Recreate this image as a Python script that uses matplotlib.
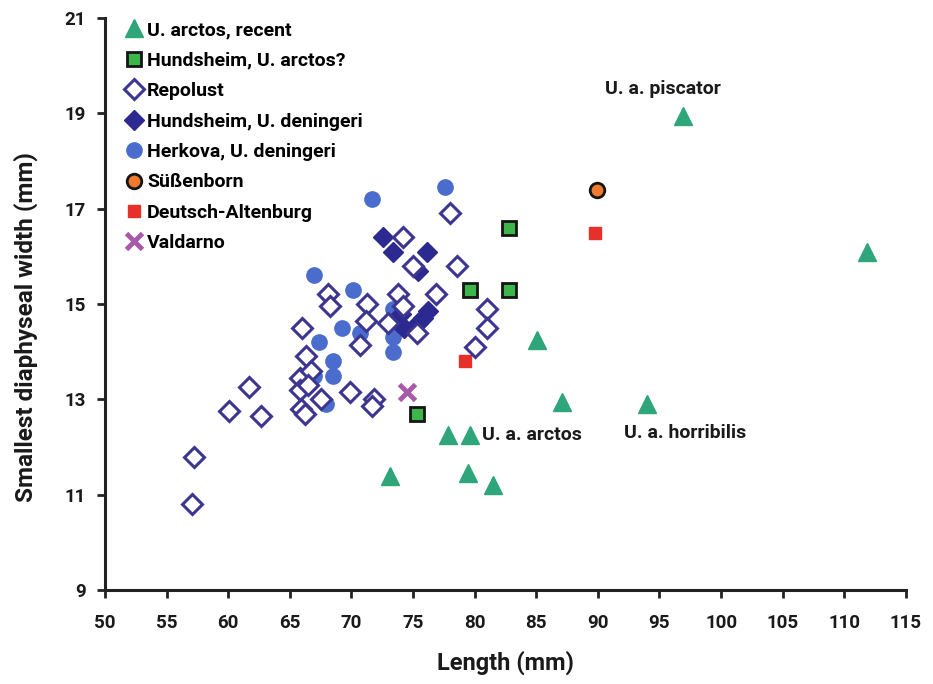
import matplotlib
matplotlib.use("Agg")
import matplotlib.pyplot as plt

plt.rcParams['font.family'] = ['Roboto', 'DejaVu Sans']
TXT_WEIGHT = 'bold'
plt.rcParams['font.weight'] = TXT_WEIGHT

# --- data: (length mm, smallest diaphyseal width mm) ---
arctos_recent_x = [96.9, 111.8, 85.1, 87.1, 94.0, 77.8, 79.6, 73.1, 79.5, 81.5]
arctos_recent_y = [18.95, 16.1, 14.25, 12.95, 12.9, 12.25, 12.25, 11.4, 11.45, 11.2]

hund_arctos_x = [82.8, 79.6, 82.8, 75.3]
hund_arctos_y = [16.6, 15.3, 15.3, 12.7]

repolust_x = [57.1, 57.2, 60.1, 61.7, 62.7,
              66.0, 66.3, 65.8, 66.7, 65.8, 66.5, 65.9, 66.2, 67.5,
              68.1, 68.3, 69.9, 70.7, 71.3, 71.2, 71.8, 71.7,
              73.8, 74.2, 73.0, 74.2, 75.0, 75.3, 76.9, 78.0, 78.6,
              81.0, 81.0, 80.0]
repolust_y = [10.8, 11.8, 12.75, 13.25, 12.65,
              14.5, 13.9, 13.45, 13.6, 13.2, 13.3, 12.8, 12.7, 13.0,
              15.2, 14.95, 13.15, 14.15, 15.0, 14.65, 13.0, 12.85,
              15.2, 14.95, 14.6, 16.4, 15.8, 14.4, 15.2, 16.9, 15.8,
              14.9, 14.5, 14.1]

hund_den_x = [72.6, 73.4, 76.1, 75.4, 74.0, 74.3, 73.9, 75.8, 76.2, 75.4]
hund_den_y = [16.4, 16.1, 16.1, 15.7, 14.8, 14.5, 14.6, 14.7, 14.85, 14.6]

herkova_x = [71.7, 77.6, 67.0, 70.1, 73.4, 73.4, 73.4, 69.2, 70.7, 67.4,
             68.5, 67.0, 68.5, 67.9]
herkova_y = [17.2, 17.45, 15.6, 15.3, 14.9, 14.3, 14.0, 14.5, 14.4, 14.2,
             13.8, 13.5, 13.5, 12.9]

suessenborn_x = [89.9]
suessenborn_y = [17.4]

deutsch_alt_x = [89.8, 79.2]
deutsch_alt_y = [16.5, 13.8]

valdarno_x = [74.5]
valdarno_y = [13.15]

x_ticks = list(range(50, 116, 5))
y_ticks = list(range(9, 22, 2))

fig = plt.figure(figsize=(9.33, 6.84), dpi=100)
ax = fig.add_axes([0.1125, 0.1374, 0.8585, 0.8363])

h_tri, = ax.plot(arctos_recent_x, arctos_recent_y, ls='none', marker='^', ms=13,
                 color='#2ea57a', mec='#2ea57a', zorder=3, label='U. arctos, recent')
h_sq, = ax.plot(hund_arctos_x, hund_arctos_y, ls='none', marker='s', ms=10.5,
                mfc='#3cb54a', mec='#151515', mew=2, zorder=3, label='Hundsheim, U. arctos?')
h_herk, = ax.plot(herkova_x, herkova_y, ls='none', marker='o', ms=11,
                  color='#4a6ccc', mec='#4a6ccc', zorder=3, label='Herkova, U. deningeri')
h_hden, = ax.plot(hund_den_x, hund_den_y, ls='none', marker='D', ms=10,
                  color='#2c2a90', mec='#2c2a90', zorder=4, label='Hundsheim, U. deningeri')
h_rep, = ax.plot(repolust_x, repolust_y, ls='none', marker='D', ms=10,
                 mfc='white', mec='#3d3592', mew=2.2, zorder=5, label='Repolust')
h_sus, = ax.plot(suessenborn_x, suessenborn_y, ls='none', marker='o', ms=10.5,
                 mfc='#f07a30', mec='#151515', mew=2, zorder=3, label='Süßenborn')
h_da, = ax.plot(deutsch_alt_x, deutsch_alt_y, ls='none', marker='s', ms=9,
                color='#e8302a', mec='#e8302a', zorder=3, label='Deutsch-Altenburg')
h_val, = ax.plot(valdarno_x, valdarno_y, ls='none', marker='x', ms=11, mew=3.5,
                 color='#a85aa8', zorder=3, label='Valdarno')

ax.legend(handles=[h_tri, h_sq, h_rep, h_hden, h_herk, h_sus, h_da, h_val],
          loc='upper left', bbox_to_anchor=(0.015, 1.008), frameon=False,
          handlelength=0.9, handletextpad=0.25, labelspacing=0.64,
          borderaxespad=0.0, prop={'weight': TXT_WEIGHT, 'size': 14})

ann_style = dict(fontsize=14, fontweight=TXT_WEIGHT, color='#1a1a1a', va='center')
ax.text(95.3, 19.5, 'U. a. piscator', ha='center', **ann_style)
ax.text(80.6, 12.25, 'U. a. arctos', ha='left', **ann_style)
ax.text(97.1, 12.3, 'U. a. horribilis', ha='center', **ann_style)

ax.set_xlim(50, 115)
ax.set_ylim(9, 21)
ax.set_xticks(x_ticks)
ax.set_yticks(y_ticks)
ax.tick_params(axis='both', direction='out', width=2, length=6, color='#222222',
               labelsize=13.5, labelcolor='#1a1a1a')
ax.tick_params(axis='x', pad=11)
ax.tick_params(axis='y', pad=8)
for lab in ax.get_xticklabels() + ax.get_yticklabels():
    lab.set_fontweight(TXT_WEIGHT)

for side in ('top', 'right'):
    ax.spines[side].set_visible(False)
for side in ('left', 'bottom'):
    ax.spines[side].set_linewidth(2.2)
    ax.spines[side].set_color('#222222')

ax.set_xlabel('Length (mm)', fontsize=17, fontweight=TXT_WEIGHT, color='#1a1a1a', labelpad=14)
ax.set_ylabel('Smallest diaphyseal width (mm)', fontsize=17.5, fontweight=TXT_WEIGHT,
              color='#1a1a1a')
ax.yaxis.set_label_coords(-0.083, 0.46)

fig.savefig('out.png', dpi=100)
